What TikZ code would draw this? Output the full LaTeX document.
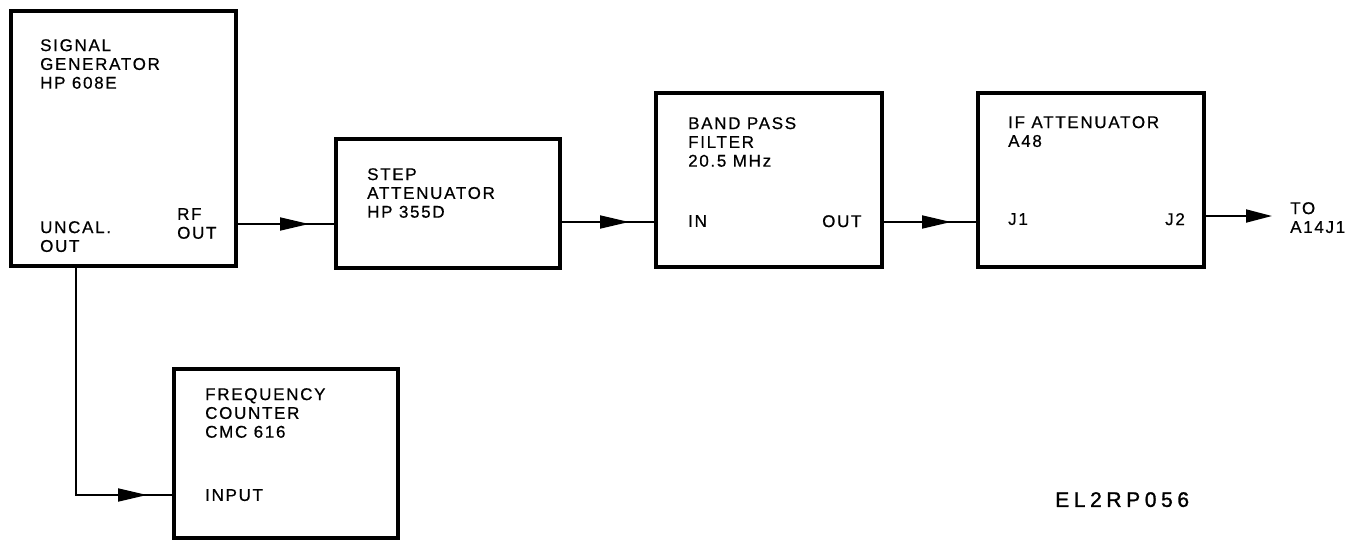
\documentclass[tikz,border=0pt]{standalone}
\usepackage{fontspec}
\setmainfont{Liberation Sans}[LetterSpace=10,FakeBold=0.6]
\newfontfamily\codefont{Liberation Sans}[LetterSpace=22,FakeBold=1.3]
\usetikzlibrary{arrows.meta,decorations.markings}
\tikzset{
  blk/.style={draw, line width=4pt, rectangle, inner sep=0pt, outer sep=0pt, anchor=north west},
  lbl/.style={anchor=north west, inner sep=0pt, font=\fontsize{17}{18.8}\selectfont, align=left},
  conn/.style={line width=1.8pt},
  midarr/.style={postaction={decorate}, decoration={markings, mark=at position -27pt with {\arrow{Triangle[length=29pt,width=13pt]}}}},
  endarr/.style={-{Triangle[length=26pt,width=13pt]}},
}
\begin{document}
\begin{tikzpicture}[x=1pt,y=-1pt]
\useasboundingbox (0,0) rectangle (1355,544);
% boxes
\node[blk, minimum width=225pt, minimum height=255pt] (sg) at (11,11) {};
\node[blk, minimum width=224pt, minimum height=129pt] (st) at (336,139) {};
\node[blk, minimum width=226pt, minimum height=174pt] (bp) at (656,93) {};
\node[blk, minimum width=226pt, minimum height=174pt] (ifa) at (978,93) {};
\node[blk, minimum width=224pt, minimum height=169pt] (fc) at (174,369) {};
% labels
\node[lbl] (sgt) at (40,39) {SIGNAL\\GENERATOR\\HP 608E};
\node[lbl] (sgu) at (40,221) {UNCAL.\\OUT};
\node[lbl] (sgr) at (177,208) {RF\\OUT};
\node[lbl] (stt) at (367,168) {STEP\\ATTENUATOR\\HP 355D};
\node[lbl] (bpt) at (688,117) {BAND PASS\\FILTER\\20.5 MHz};
\node[lbl] (bpi) at (688,215) {IN};
\node[lbl] (bpo) at (822,215) {OUT};
\node[lbl] (ift) at (1008,116) {IF ATTENUATOR\\A48};
\node[lbl] (ifj1) at (1008,213) {J1};
\node[lbl] (ifj2) at (1165,213) {J2};
\node[lbl] (fct) at (205,388) {FREQUENCY\\COUNTER\\CMC 616};
\node[lbl] (fci) at (205,489) {INPUT};
\node[lbl] (tot) at (1290,202) {TO\\A14J1};
\node[anchor=north west, inner sep=0pt, font=\codefont\fontsize{21}{24}\selectfont] (code) at (1055,492) {EL2RP056};
% connector ends
\coordinate (a1) at ([yshift=-85.5pt]sg.east);
\coordinate (a2) at ([yshift=-18.5pt]st.east);
\coordinate (a3) at ([yshift=-42pt]bp.east);
\coordinate (a4) at ([yshift=-36pt]ifa.east);
\coordinate (tocoord) at (1272,216);
\coordinate (ucal) at ([xshift=-47.5pt]sg.south);
\coordinate (inp) at ([yshift=-41.5pt]fc.west);
% connectors
\draw[conn, midarr] (a1) -- (a1 -| st.west);
\draw[conn, midarr] (a2) -- (a2 -| bp.west);
\draw[conn, midarr] (a3) -- (a3 -| ifa.west);
\draw[conn, endarr] (a4) -- (tocoord);
\draw[conn, midarr] (ucal) |- (inp);
\end{tikzpicture}
\end{document}
